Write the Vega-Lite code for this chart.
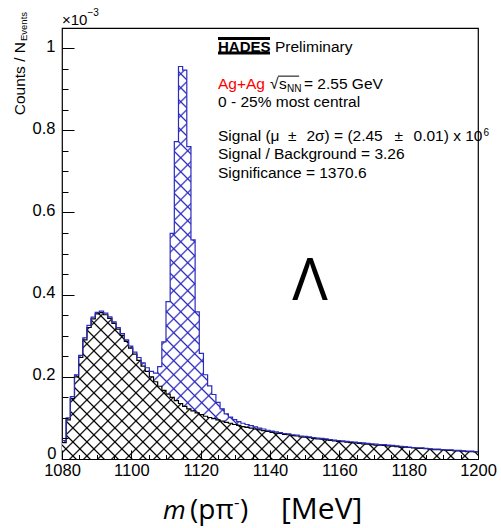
{
"$schema": "https://vega.github.io/schema/vega-lite/v6.json",
"width": 416, "height": 431,
"autosize": "none",
"padding": {"left": 62, "top": 28, "right": 23, "bottom": 69},
"background": "white",
"config": {"view": {"stroke": "black", "strokeWidth": 1.2}},
"resolve": {"axis": {"x": "independent", "y": "independent"}},
"datasets": {"hist": [
{"m":1080,"sig":0.045,"bkg":0.04},{"m":1081.2,"sig":0.1,"bkg":0.095},{"m":1082.4,"sig":0.152,"bkg":0.147},{"m":1083.6,"sig":0.205,"bkg":0.2},{"m":1084.8,"sig":0.252,"bkg":0.247},
{"m":1086,"sig":0.295,"bkg":0.29},{"m":1087.2,"sig":0.325,"bkg":0.32},{"m":1088.4,"sig":0.345,"bkg":0.341},{"m":1089.6,"sig":0.357,"bkg":0.353},{"m":1090.8,"sig":0.36,"bkg":0.356},
{"m":1092,"sig":0.355,"bkg":0.351},{"m":1093.2,"sig":0.346,"bkg":0.342},{"m":1094.4,"sig":0.334,"bkg":0.33},{"m":1095.6,"sig":0.32,"bkg":0.316},{"m":1096.8,"sig":0.305,"bkg":0.301},
{"m":1098,"sig":0.29,"bkg":0.286},{"m":1099.2,"sig":0.275,"bkg":0.27},{"m":1100.4,"sig":0.26,"bkg":0.255},{"m":1101.6,"sig":0.247,"bkg":0.24},{"m":1102.8,"sig":0.234,"bkg":0.226},
{"m":1104,"sig":0.222,"bkg":0.213},{"m":1105.2,"sig":0.213,"bkg":0.2},{"m":1106.4,"sig":0.209,"bkg":0.188},{"m":1107.6,"sig":0.225,"bkg":0.177},{"m":1108.8,"sig":0.285,"bkg":0.167},
{"m":1110,"sig":0.383,"bkg":0.158},{"m":1111.2,"sig":0.549,"bkg":0.15},{"m":1112.4,"sig":0.772,"bkg":0.142},{"m":1113.6,"sig":0.955,"bkg":0.135},{"m":1114.8,"sig":0.946,"bkg":0.128},
{"m":1116,"sig":0.76,"bkg":0.122},{"m":1117.2,"sig":0.533,"bkg":0.117},{"m":1118.4,"sig":0.358,"bkg":0.112},{"m":1119.6,"sig":0.257,"bkg":0.108},{"m":1120.8,"sig":0.205,"bkg":0.104},
{"m":1122,"sig":0.178,"bkg":0.101},{"m":1123.2,"sig":0.157,"bkg":0.098},{"m":1124.4,"sig":0.138,"bkg":0.095},{"m":1125.6,"sig":0.122,"bkg":0.092},{"m":1126.8,"sig":0.11,"bkg":0.089},
{"m":1128,"sig":0.102,"bkg":0.087},{"m":1129.2,"sig":0.096,"bkg":0.084},{"m":1130.4,"sig":0.091,"bkg":0.082},{"m":1131.6,"sig":0.087,"bkg":0.079},{"m":1132.8,"sig":0.084,"bkg":0.077},
{"m":1134,"sig":0.081,"bkg":0.075},{"m":1135.2,"sig":0.078,"bkg":0.073},{"m":1136.4,"sig":0.075,"bkg":0.071},{"m":1137.6,"sig":0.073,"bkg":0.069},{"m":1138.8,"sig":0.07,"bkg":0.067},
{"m":1140,"sig":0.068,"bkg":0.065},{"m":1141.2,"sig":0.066,"bkg":0.063},{"m":1142.4,"sig":0.064,"bkg":0.062},{"m":1143.6,"sig":0.062,"bkg":0.06},{"m":1144.8,"sig":0.061,"bkg":0.059},
{"m":1146,"sig":0.059,"bkg":0.057},{"m":1147.2,"sig":0.058,"bkg":0.056},{"m":1148.4,"sig":0.056,"bkg":0.054},{"m":1149.6,"sig":0.055,"bkg":0.053},{"m":1150.8,"sig":0.054,"bkg":0.052},
{"m":1152,"sig":0.052,"bkg":0.05},{"m":1153.2,"sig":0.051,"bkg":0.049},{"m":1154.4,"sig":0.05,"bkg":0.048},{"m":1155.6,"sig":0.049,"bkg":0.047},{"m":1156.8,"sig":0.047,"bkg":0.045},
{"m":1158,"sig":0.046,"bkg":0.044},{"m":1159.2,"sig":0.045,"bkg":0.043},{"m":1160.4,"sig":0.044,"bkg":0.042},{"m":1161.6,"sig":0.043,"bkg":0.041},{"m":1162.8,"sig":0.042,"bkg":0.04},
{"m":1164,"sig":0.041,"bkg":0.039},{"m":1165.2,"sig":0.04,"bkg":0.038},{"m":1166.4,"sig":0.039,"bkg":0.037},{"m":1167.6,"sig":0.038,"bkg":0.036},{"m":1168.8,"sig":0.037,"bkg":0.035},
{"m":1170,"sig":0.036,"bkg":0.034},{"m":1171.2,"sig":0.035,"bkg":0.034},{"m":1172.4,"sig":0.035,"bkg":0.033},{"m":1173.6,"sig":0.034,"bkg":0.032},{"m":1174.8,"sig":0.033,"bkg":0.031},
{"m":1176,"sig":0.032,"bkg":0.03},{"m":1177.2,"sig":0.031,"bkg":0.029},{"m":1178.4,"sig":0.03,"bkg":0.029},{"m":1179.6,"sig":0.029,"bkg":0.028},{"m":1180.8,"sig":0.028,"bkg":0.027},
{"m":1182,"sig":0.027,"bkg":0.026},{"m":1183.2,"sig":0.027,"bkg":0.026},{"m":1184.4,"sig":0.026,"bkg":0.025},{"m":1185.6,"sig":0.025,"bkg":0.024},{"m":1186.8,"sig":0.024,"bkg":0.023},
{"m":1188,"sig":0.024,"bkg":0.023},{"m":1189.2,"sig":0.023,"bkg":0.022},{"m":1190.4,"sig":0.022,"bkg":0.021},{"m":1191.6,"sig":0.022,"bkg":0.021},{"m":1192.8,"sig":0.021,"bkg":0.02},
{"m":1194,"sig":0.021,"bkg":0.02},{"m":1195.2,"sig":0.02,"bkg":0.019},{"m":1196.4,"sig":0.019,"bkg":0.018},{"m":1197.6,"sig":0.019,"bkg":0.018},{"m":1198.8,"sig":0.018,"bkg":0.017},
{"m":1200,"sig":0.018,"bkg":0.017}
]},
"layer": [
{"data": {"name": "hist"}, "layer": [
{"mark": {"type": "area", "interpolate": "step-after", "strokeWidth": 0, "fill": {"gradient": "linear", "x1": 0, "y1": 0, "x2": 0.89, "y2": 0.84, "stops": [
{"offset":0.0175,"color":"#2b2bbf00"},{"offset":0.02,"color":"#2b2bbf"},{"offset":0.0225,"color":"#2b2bbf00"},
{"offset":0.0375,"color":"#2b2bbf00"},{"offset":0.04,"color":"#2b2bbf"},{"offset":0.0425,"color":"#2b2bbf00"},
{"offset":0.0575,"color":"#2b2bbf00"},{"offset":0.06,"color":"#2b2bbf"},{"offset":0.0625,"color":"#2b2bbf00"},
{"offset":0.0775,"color":"#2b2bbf00"},{"offset":0.08,"color":"#2b2bbf"},{"offset":0.0825,"color":"#2b2bbf00"},
{"offset":0.0975,"color":"#2b2bbf00"},{"offset":0.1,"color":"#2b2bbf"},{"offset":0.1025,"color":"#2b2bbf00"},
{"offset":0.1175,"color":"#2b2bbf00"},{"offset":0.12,"color":"#2b2bbf"},{"offset":0.1225,"color":"#2b2bbf00"},
{"offset":0.1375,"color":"#2b2bbf00"},{"offset":0.14,"color":"#2b2bbf"},{"offset":0.1425,"color":"#2b2bbf00"},
{"offset":0.1575,"color":"#2b2bbf00"},{"offset":0.16,"color":"#2b2bbf"},{"offset":0.1625,"color":"#2b2bbf00"},
{"offset":0.1775,"color":"#2b2bbf00"},{"offset":0.18,"color":"#2b2bbf"},{"offset":0.1825,"color":"#2b2bbf00"},
{"offset":0.1975,"color":"#2b2bbf00"},{"offset":0.2,"color":"#2b2bbf"},{"offset":0.2025,"color":"#2b2bbf00"},
{"offset":0.2175,"color":"#2b2bbf00"},{"offset":0.22,"color":"#2b2bbf"},{"offset":0.2225,"color":"#2b2bbf00"},
{"offset":0.2375,"color":"#2b2bbf00"},{"offset":0.24,"color":"#2b2bbf"},{"offset":0.2425,"color":"#2b2bbf00"},
{"offset":0.2575,"color":"#2b2bbf00"},{"offset":0.26,"color":"#2b2bbf"},{"offset":0.2625,"color":"#2b2bbf00"},
{"offset":0.2775,"color":"#2b2bbf00"},{"offset":0.28,"color":"#2b2bbf"},{"offset":0.2825,"color":"#2b2bbf00"},
{"offset":0.2975,"color":"#2b2bbf00"},{"offset":0.3,"color":"#2b2bbf"},{"offset":0.3025,"color":"#2b2bbf00"},
{"offset":0.3175,"color":"#2b2bbf00"},{"offset":0.32,"color":"#2b2bbf"},{"offset":0.3225,"color":"#2b2bbf00"},
{"offset":0.3375,"color":"#2b2bbf00"},{"offset":0.34,"color":"#2b2bbf"},{"offset":0.3425,"color":"#2b2bbf00"},
{"offset":0.3575,"color":"#2b2bbf00"},{"offset":0.36,"color":"#2b2bbf"},{"offset":0.3625,"color":"#2b2bbf00"},
{"offset":0.3775,"color":"#2b2bbf00"},{"offset":0.38,"color":"#2b2bbf"},{"offset":0.3825,"color":"#2b2bbf00"},
{"offset":0.3975,"color":"#2b2bbf00"},{"offset":0.4,"color":"#2b2bbf"},{"offset":0.4025,"color":"#2b2bbf00"},
{"offset":0.4175,"color":"#2b2bbf00"},{"offset":0.42,"color":"#2b2bbf"},{"offset":0.4225,"color":"#2b2bbf00"},
{"offset":0.4375,"color":"#2b2bbf00"},{"offset":0.44,"color":"#2b2bbf"},{"offset":0.4425,"color":"#2b2bbf00"},
{"offset":0.4575,"color":"#2b2bbf00"},{"offset":0.46,"color":"#2b2bbf"},{"offset":0.4625,"color":"#2b2bbf00"},
{"offset":0.4775,"color":"#2b2bbf00"},{"offset":0.48,"color":"#2b2bbf"},{"offset":0.4825,"color":"#2b2bbf00"},
{"offset":0.4975,"color":"#2b2bbf00"},{"offset":0.5,"color":"#2b2bbf"},{"offset":0.5025,"color":"#2b2bbf00"},
{"offset":0.5175,"color":"#2b2bbf00"},{"offset":0.52,"color":"#2b2bbf"},{"offset":0.5225,"color":"#2b2bbf00"},
{"offset":0.5375,"color":"#2b2bbf00"},{"offset":0.54,"color":"#2b2bbf"},{"offset":0.5425,"color":"#2b2bbf00"},
{"offset":0.5575,"color":"#2b2bbf00"},{"offset":0.56,"color":"#2b2bbf"},{"offset":0.5625,"color":"#2b2bbf00"},
{"offset":0.5775,"color":"#2b2bbf00"},{"offset":0.58,"color":"#2b2bbf"},{"offset":0.5825,"color":"#2b2bbf00"},
{"offset":0.5975,"color":"#2b2bbf00"},{"offset":0.6,"color":"#2b2bbf"},{"offset":0.6025,"color":"#2b2bbf00"},
{"offset":0.6175,"color":"#2b2bbf00"},{"offset":0.62,"color":"#2b2bbf"},{"offset":0.6225,"color":"#2b2bbf00"},
{"offset":0.6375,"color":"#2b2bbf00"},{"offset":0.64,"color":"#2b2bbf"},{"offset":0.6425,"color":"#2b2bbf00"},
{"offset":0.6575,"color":"#2b2bbf00"},{"offset":0.66,"color":"#2b2bbf"},{"offset":0.6625,"color":"#2b2bbf00"},
{"offset":0.6775,"color":"#2b2bbf00"},{"offset":0.68,"color":"#2b2bbf"},{"offset":0.6825,"color":"#2b2bbf00"},
{"offset":0.6975,"color":"#2b2bbf00"},{"offset":0.7,"color":"#2b2bbf"},{"offset":0.7025,"color":"#2b2bbf00"},
{"offset":0.7175,"color":"#2b2bbf00"},{"offset":0.72,"color":"#2b2bbf"},{"offset":0.7225,"color":"#2b2bbf00"},
{"offset":0.7375,"color":"#2b2bbf00"},{"offset":0.74,"color":"#2b2bbf"},{"offset":0.7425,"color":"#2b2bbf00"},
{"offset":0.7575,"color":"#2b2bbf00"},{"offset":0.76,"color":"#2b2bbf"},{"offset":0.7625,"color":"#2b2bbf00"},
{"offset":0.7775,"color":"#2b2bbf00"},{"offset":0.78,"color":"#2b2bbf"},{"offset":0.7825,"color":"#2b2bbf00"},
{"offset":0.7975,"color":"#2b2bbf00"},{"offset":0.8,"color":"#2b2bbf"},{"offset":0.8025,"color":"#2b2bbf00"},
{"offset":0.8175,"color":"#2b2bbf00"},{"offset":0.82,"color":"#2b2bbf"},{"offset":0.8225,"color":"#2b2bbf00"},
{"offset":0.8375,"color":"#2b2bbf00"},{"offset":0.84,"color":"#2b2bbf"},{"offset":0.8425,"color":"#2b2bbf00"},
{"offset":0.8575,"color":"#2b2bbf00"},{"offset":0.86,"color":"#2b2bbf"},{"offset":0.8625,"color":"#2b2bbf00"},
{"offset":0.8775,"color":"#2b2bbf00"},{"offset":0.88,"color":"#2b2bbf"},{"offset":0.8825,"color":"#2b2bbf00"},
{"offset":0.8975,"color":"#2b2bbf00"},{"offset":0.9,"color":"#2b2bbf"},{"offset":0.9025,"color":"#2b2bbf00"},
{"offset":0.9175,"color":"#2b2bbf00"},{"offset":0.92,"color":"#2b2bbf"},{"offset":0.9225,"color":"#2b2bbf00"},
{"offset":0.9375,"color":"#2b2bbf00"},{"offset":0.94,"color":"#2b2bbf"},{"offset":0.9425,"color":"#2b2bbf00"},
{"offset":0.9575,"color":"#2b2bbf00"},{"offset":0.96,"color":"#2b2bbf"},{"offset":0.9625,"color":"#2b2bbf00"},
{"offset":0.9775,"color":"#2b2bbf00"},{"offset":0.98,"color":"#2b2bbf"},{"offset":0.9825,"color":"#2b2bbf00"}
]}},
 "encoding": {
  "x": {"field": "m", "type": "quantitative", "scale": {"domain": [1080, 1200], "nice": false, "zero": false}, "axis": null},
  "y": {"field": "sig", "type": "quantitative", "scale": {"domain": [0, 1.0487], "nice": false, "zero": true}, "axis": null}
 }},
{"mark": {"type": "area", "interpolate": "step-after", "strokeWidth": 0, "fill": {"gradient": "linear", "x1": 0, "y1": 1, "x2": 0.89, "y2": 0.16, "stops": [
{"offset":0.0175,"color":"#2b2bbf00"},{"offset":0.02,"color":"#2b2bbf"},{"offset":0.0225,"color":"#2b2bbf00"},
{"offset":0.0375,"color":"#2b2bbf00"},{"offset":0.04,"color":"#2b2bbf"},{"offset":0.0425,"color":"#2b2bbf00"},
{"offset":0.0575,"color":"#2b2bbf00"},{"offset":0.06,"color":"#2b2bbf"},{"offset":0.0625,"color":"#2b2bbf00"},
{"offset":0.0775,"color":"#2b2bbf00"},{"offset":0.08,"color":"#2b2bbf"},{"offset":0.0825,"color":"#2b2bbf00"},
{"offset":0.0975,"color":"#2b2bbf00"},{"offset":0.1,"color":"#2b2bbf"},{"offset":0.1025,"color":"#2b2bbf00"},
{"offset":0.1175,"color":"#2b2bbf00"},{"offset":0.12,"color":"#2b2bbf"},{"offset":0.1225,"color":"#2b2bbf00"},
{"offset":0.1375,"color":"#2b2bbf00"},{"offset":0.14,"color":"#2b2bbf"},{"offset":0.1425,"color":"#2b2bbf00"},
{"offset":0.1575,"color":"#2b2bbf00"},{"offset":0.16,"color":"#2b2bbf"},{"offset":0.1625,"color":"#2b2bbf00"},
{"offset":0.1775,"color":"#2b2bbf00"},{"offset":0.18,"color":"#2b2bbf"},{"offset":0.1825,"color":"#2b2bbf00"},
{"offset":0.1975,"color":"#2b2bbf00"},{"offset":0.2,"color":"#2b2bbf"},{"offset":0.2025,"color":"#2b2bbf00"},
{"offset":0.2175,"color":"#2b2bbf00"},{"offset":0.22,"color":"#2b2bbf"},{"offset":0.2225,"color":"#2b2bbf00"},
{"offset":0.2375,"color":"#2b2bbf00"},{"offset":0.24,"color":"#2b2bbf"},{"offset":0.2425,"color":"#2b2bbf00"},
{"offset":0.2575,"color":"#2b2bbf00"},{"offset":0.26,"color":"#2b2bbf"},{"offset":0.2625,"color":"#2b2bbf00"},
{"offset":0.2775,"color":"#2b2bbf00"},{"offset":0.28,"color":"#2b2bbf"},{"offset":0.2825,"color":"#2b2bbf00"},
{"offset":0.2975,"color":"#2b2bbf00"},{"offset":0.3,"color":"#2b2bbf"},{"offset":0.3025,"color":"#2b2bbf00"},
{"offset":0.3175,"color":"#2b2bbf00"},{"offset":0.32,"color":"#2b2bbf"},{"offset":0.3225,"color":"#2b2bbf00"},
{"offset":0.3375,"color":"#2b2bbf00"},{"offset":0.34,"color":"#2b2bbf"},{"offset":0.3425,"color":"#2b2bbf00"},
{"offset":0.3575,"color":"#2b2bbf00"},{"offset":0.36,"color":"#2b2bbf"},{"offset":0.3625,"color":"#2b2bbf00"},
{"offset":0.3775,"color":"#2b2bbf00"},{"offset":0.38,"color":"#2b2bbf"},{"offset":0.3825,"color":"#2b2bbf00"},
{"offset":0.3975,"color":"#2b2bbf00"},{"offset":0.4,"color":"#2b2bbf"},{"offset":0.4025,"color":"#2b2bbf00"},
{"offset":0.4175,"color":"#2b2bbf00"},{"offset":0.42,"color":"#2b2bbf"},{"offset":0.4225,"color":"#2b2bbf00"},
{"offset":0.4375,"color":"#2b2bbf00"},{"offset":0.44,"color":"#2b2bbf"},{"offset":0.4425,"color":"#2b2bbf00"},
{"offset":0.4575,"color":"#2b2bbf00"},{"offset":0.46,"color":"#2b2bbf"},{"offset":0.4625,"color":"#2b2bbf00"},
{"offset":0.4775,"color":"#2b2bbf00"},{"offset":0.48,"color":"#2b2bbf"},{"offset":0.4825,"color":"#2b2bbf00"},
{"offset":0.4975,"color":"#2b2bbf00"},{"offset":0.5,"color":"#2b2bbf"},{"offset":0.5025,"color":"#2b2bbf00"},
{"offset":0.5175,"color":"#2b2bbf00"},{"offset":0.52,"color":"#2b2bbf"},{"offset":0.5225,"color":"#2b2bbf00"},
{"offset":0.5375,"color":"#2b2bbf00"},{"offset":0.54,"color":"#2b2bbf"},{"offset":0.5425,"color":"#2b2bbf00"},
{"offset":0.5575,"color":"#2b2bbf00"},{"offset":0.56,"color":"#2b2bbf"},{"offset":0.5625,"color":"#2b2bbf00"},
{"offset":0.5775,"color":"#2b2bbf00"},{"offset":0.58,"color":"#2b2bbf"},{"offset":0.5825,"color":"#2b2bbf00"},
{"offset":0.5975,"color":"#2b2bbf00"},{"offset":0.6,"color":"#2b2bbf"},{"offset":0.6025,"color":"#2b2bbf00"},
{"offset":0.6175,"color":"#2b2bbf00"},{"offset":0.62,"color":"#2b2bbf"},{"offset":0.6225,"color":"#2b2bbf00"},
{"offset":0.6375,"color":"#2b2bbf00"},{"offset":0.64,"color":"#2b2bbf"},{"offset":0.6425,"color":"#2b2bbf00"},
{"offset":0.6575,"color":"#2b2bbf00"},{"offset":0.66,"color":"#2b2bbf"},{"offset":0.6625,"color":"#2b2bbf00"},
{"offset":0.6775,"color":"#2b2bbf00"},{"offset":0.68,"color":"#2b2bbf"},{"offset":0.6825,"color":"#2b2bbf00"},
{"offset":0.6975,"color":"#2b2bbf00"},{"offset":0.7,"color":"#2b2bbf"},{"offset":0.7025,"color":"#2b2bbf00"},
{"offset":0.7175,"color":"#2b2bbf00"},{"offset":0.72,"color":"#2b2bbf"},{"offset":0.7225,"color":"#2b2bbf00"},
{"offset":0.7375,"color":"#2b2bbf00"},{"offset":0.74,"color":"#2b2bbf"},{"offset":0.7425,"color":"#2b2bbf00"},
{"offset":0.7575,"color":"#2b2bbf00"},{"offset":0.76,"color":"#2b2bbf"},{"offset":0.7625,"color":"#2b2bbf00"},
{"offset":0.7775,"color":"#2b2bbf00"},{"offset":0.78,"color":"#2b2bbf"},{"offset":0.7825,"color":"#2b2bbf00"},
{"offset":0.7975,"color":"#2b2bbf00"},{"offset":0.8,"color":"#2b2bbf"},{"offset":0.8025,"color":"#2b2bbf00"},
{"offset":0.8175,"color":"#2b2bbf00"},{"offset":0.82,"color":"#2b2bbf"},{"offset":0.8225,"color":"#2b2bbf00"},
{"offset":0.8375,"color":"#2b2bbf00"},{"offset":0.84,"color":"#2b2bbf"},{"offset":0.8425,"color":"#2b2bbf00"},
{"offset":0.8575,"color":"#2b2bbf00"},{"offset":0.86,"color":"#2b2bbf"},{"offset":0.8625,"color":"#2b2bbf00"},
{"offset":0.8775,"color":"#2b2bbf00"},{"offset":0.88,"color":"#2b2bbf"},{"offset":0.8825,"color":"#2b2bbf00"},
{"offset":0.8975,"color":"#2b2bbf00"},{"offset":0.9,"color":"#2b2bbf"},{"offset":0.9025,"color":"#2b2bbf00"},
{"offset":0.9175,"color":"#2b2bbf00"},{"offset":0.92,"color":"#2b2bbf"},{"offset":0.9225,"color":"#2b2bbf00"},
{"offset":0.9375,"color":"#2b2bbf00"},{"offset":0.94,"color":"#2b2bbf"},{"offset":0.9425,"color":"#2b2bbf00"},
{"offset":0.9575,"color":"#2b2bbf00"},{"offset":0.96,"color":"#2b2bbf"},{"offset":0.9625,"color":"#2b2bbf00"},
{"offset":0.9775,"color":"#2b2bbf00"},{"offset":0.98,"color":"#2b2bbf"},{"offset":0.9825,"color":"#2b2bbf00"}
]}},
 "encoding": {"x": {"field": "m", "type": "quantitative", "axis": null}, "y": {"field": "sig", "type": "quantitative", "axis": null}}},
{"mark": {"type": "area", "interpolate": "step-after", "strokeWidth": 0, "fill": "white"},
 "encoding": {"x": {"field": "m", "type": "quantitative", "axis": null}, "y": {"field": "bkg", "type": "quantitative", "axis": null}}},
{"mark": {"type": "area", "interpolate": "step-after", "strokeWidth": 0, "fill": {"gradient": "linear", "x1": 0, "y1": 0, "x2": 1.198, "y2": 0.421, "stops": [
{"offset":0.022,"color":"#0000"},{"offset":0.025,"color":"#000"},{"offset":0.028,"color":"#0000"},
{"offset":0.047,"color":"#0000"},{"offset":0.05,"color":"#000"},{"offset":0.053,"color":"#0000"},
{"offset":0.072,"color":"#0000"},{"offset":0.075,"color":"#000"},{"offset":0.078,"color":"#0000"},
{"offset":0.097,"color":"#0000"},{"offset":0.1,"color":"#000"},{"offset":0.103,"color":"#0000"},
{"offset":0.122,"color":"#0000"},{"offset":0.125,"color":"#000"},{"offset":0.128,"color":"#0000"},
{"offset":0.147,"color":"#0000"},{"offset":0.15,"color":"#000"},{"offset":0.153,"color":"#0000"},
{"offset":0.172,"color":"#0000"},{"offset":0.175,"color":"#000"},{"offset":0.178,"color":"#0000"},
{"offset":0.197,"color":"#0000"},{"offset":0.2,"color":"#000"},{"offset":0.203,"color":"#0000"},
{"offset":0.222,"color":"#0000"},{"offset":0.225,"color":"#000"},{"offset":0.228,"color":"#0000"},
{"offset":0.247,"color":"#0000"},{"offset":0.25,"color":"#000"},{"offset":0.253,"color":"#0000"},
{"offset":0.272,"color":"#0000"},{"offset":0.275,"color":"#000"},{"offset":0.278,"color":"#0000"},
{"offset":0.297,"color":"#0000"},{"offset":0.3,"color":"#000"},{"offset":0.303,"color":"#0000"},
{"offset":0.322,"color":"#0000"},{"offset":0.325,"color":"#000"},{"offset":0.328,"color":"#0000"},
{"offset":0.347,"color":"#0000"},{"offset":0.35,"color":"#000"},{"offset":0.353,"color":"#0000"},
{"offset":0.372,"color":"#0000"},{"offset":0.375,"color":"#000"},{"offset":0.378,"color":"#0000"},
{"offset":0.397,"color":"#0000"},{"offset":0.4,"color":"#000"},{"offset":0.403,"color":"#0000"},
{"offset":0.422,"color":"#0000"},{"offset":0.425,"color":"#000"},{"offset":0.428,"color":"#0000"},
{"offset":0.447,"color":"#0000"},{"offset":0.45,"color":"#000"},{"offset":0.453,"color":"#0000"},
{"offset":0.472,"color":"#0000"},{"offset":0.475,"color":"#000"},{"offset":0.478,"color":"#0000"},
{"offset":0.497,"color":"#0000"},{"offset":0.5,"color":"#000"},{"offset":0.503,"color":"#0000"},
{"offset":0.522,"color":"#0000"},{"offset":0.525,"color":"#000"},{"offset":0.528,"color":"#0000"},
{"offset":0.547,"color":"#0000"},{"offset":0.55,"color":"#000"},{"offset":0.553,"color":"#0000"},
{"offset":0.572,"color":"#0000"},{"offset":0.575,"color":"#000"},{"offset":0.578,"color":"#0000"},
{"offset":0.597,"color":"#0000"},{"offset":0.6,"color":"#000"},{"offset":0.603,"color":"#0000"},
{"offset":0.622,"color":"#0000"},{"offset":0.625,"color":"#000"},{"offset":0.628,"color":"#0000"},
{"offset":0.647,"color":"#0000"},{"offset":0.65,"color":"#000"},{"offset":0.653,"color":"#0000"},
{"offset":0.672,"color":"#0000"},{"offset":0.675,"color":"#000"},{"offset":0.678,"color":"#0000"},
{"offset":0.697,"color":"#0000"},{"offset":0.7,"color":"#000"},{"offset":0.703,"color":"#0000"},
{"offset":0.722,"color":"#0000"},{"offset":0.725,"color":"#000"},{"offset":0.728,"color":"#0000"},
{"offset":0.747,"color":"#0000"},{"offset":0.75,"color":"#000"},{"offset":0.753,"color":"#0000"},
{"offset":0.772,"color":"#0000"},{"offset":0.775,"color":"#000"},{"offset":0.778,"color":"#0000"},
{"offset":0.797,"color":"#0000"},{"offset":0.8,"color":"#000"},{"offset":0.803,"color":"#0000"},
{"offset":0.822,"color":"#0000"},{"offset":0.825,"color":"#000"},{"offset":0.828,"color":"#0000"},
{"offset":0.847,"color":"#0000"},{"offset":0.85,"color":"#000"},{"offset":0.853,"color":"#0000"},
{"offset":0.872,"color":"#0000"},{"offset":0.875,"color":"#000"},{"offset":0.878,"color":"#0000"},
{"offset":0.897,"color":"#0000"},{"offset":0.9,"color":"#000"},{"offset":0.903,"color":"#0000"},
{"offset":0.922,"color":"#0000"},{"offset":0.925,"color":"#000"},{"offset":0.928,"color":"#0000"},
{"offset":0.947,"color":"#0000"},{"offset":0.95,"color":"#000"},{"offset":0.953,"color":"#0000"},
{"offset":0.972,"color":"#0000"},{"offset":0.975,"color":"#000"},{"offset":0.978,"color":"#0000"}
]}},
 "encoding": {"x": {"field": "m", "type": "quantitative", "axis": null}, "y": {"field": "bkg", "type": "quantitative", "axis": null}}},
{"mark": {"type": "area", "interpolate": "step-after", "strokeWidth": 0, "fill": {"gradient": "linear", "x1": 0, "y1": 1, "x2": 1.198, "y2": 0.579, "stops": [
{"offset":0.022,"color":"#0000"},{"offset":0.025,"color":"#000"},{"offset":0.028,"color":"#0000"},
{"offset":0.047,"color":"#0000"},{"offset":0.05,"color":"#000"},{"offset":0.053,"color":"#0000"},
{"offset":0.072,"color":"#0000"},{"offset":0.075,"color":"#000"},{"offset":0.078,"color":"#0000"},
{"offset":0.097,"color":"#0000"},{"offset":0.1,"color":"#000"},{"offset":0.103,"color":"#0000"},
{"offset":0.122,"color":"#0000"},{"offset":0.125,"color":"#000"},{"offset":0.128,"color":"#0000"},
{"offset":0.147,"color":"#0000"},{"offset":0.15,"color":"#000"},{"offset":0.153,"color":"#0000"},
{"offset":0.172,"color":"#0000"},{"offset":0.175,"color":"#000"},{"offset":0.178,"color":"#0000"},
{"offset":0.197,"color":"#0000"},{"offset":0.2,"color":"#000"},{"offset":0.203,"color":"#0000"},
{"offset":0.222,"color":"#0000"},{"offset":0.225,"color":"#000"},{"offset":0.228,"color":"#0000"},
{"offset":0.247,"color":"#0000"},{"offset":0.25,"color":"#000"},{"offset":0.253,"color":"#0000"},
{"offset":0.272,"color":"#0000"},{"offset":0.275,"color":"#000"},{"offset":0.278,"color":"#0000"},
{"offset":0.297,"color":"#0000"},{"offset":0.3,"color":"#000"},{"offset":0.303,"color":"#0000"},
{"offset":0.322,"color":"#0000"},{"offset":0.325,"color":"#000"},{"offset":0.328,"color":"#0000"},
{"offset":0.347,"color":"#0000"},{"offset":0.35,"color":"#000"},{"offset":0.353,"color":"#0000"},
{"offset":0.372,"color":"#0000"},{"offset":0.375,"color":"#000"},{"offset":0.378,"color":"#0000"},
{"offset":0.397,"color":"#0000"},{"offset":0.4,"color":"#000"},{"offset":0.403,"color":"#0000"},
{"offset":0.422,"color":"#0000"},{"offset":0.425,"color":"#000"},{"offset":0.428,"color":"#0000"},
{"offset":0.447,"color":"#0000"},{"offset":0.45,"color":"#000"},{"offset":0.453,"color":"#0000"},
{"offset":0.472,"color":"#0000"},{"offset":0.475,"color":"#000"},{"offset":0.478,"color":"#0000"},
{"offset":0.497,"color":"#0000"},{"offset":0.5,"color":"#000"},{"offset":0.503,"color":"#0000"},
{"offset":0.522,"color":"#0000"},{"offset":0.525,"color":"#000"},{"offset":0.528,"color":"#0000"},
{"offset":0.547,"color":"#0000"},{"offset":0.55,"color":"#000"},{"offset":0.553,"color":"#0000"},
{"offset":0.572,"color":"#0000"},{"offset":0.575,"color":"#000"},{"offset":0.578,"color":"#0000"},
{"offset":0.597,"color":"#0000"},{"offset":0.6,"color":"#000"},{"offset":0.603,"color":"#0000"},
{"offset":0.622,"color":"#0000"},{"offset":0.625,"color":"#000"},{"offset":0.628,"color":"#0000"},
{"offset":0.647,"color":"#0000"},{"offset":0.65,"color":"#000"},{"offset":0.653,"color":"#0000"},
{"offset":0.672,"color":"#0000"},{"offset":0.675,"color":"#000"},{"offset":0.678,"color":"#0000"},
{"offset":0.697,"color":"#0000"},{"offset":0.7,"color":"#000"},{"offset":0.703,"color":"#0000"},
{"offset":0.722,"color":"#0000"},{"offset":0.725,"color":"#000"},{"offset":0.728,"color":"#0000"},
{"offset":0.747,"color":"#0000"},{"offset":0.75,"color":"#000"},{"offset":0.753,"color":"#0000"},
{"offset":0.772,"color":"#0000"},{"offset":0.775,"color":"#000"},{"offset":0.778,"color":"#0000"},
{"offset":0.797,"color":"#0000"},{"offset":0.8,"color":"#000"},{"offset":0.803,"color":"#0000"},
{"offset":0.822,"color":"#0000"},{"offset":0.825,"color":"#000"},{"offset":0.828,"color":"#0000"},
{"offset":0.847,"color":"#0000"},{"offset":0.85,"color":"#000"},{"offset":0.853,"color":"#0000"},
{"offset":0.872,"color":"#0000"},{"offset":0.875,"color":"#000"},{"offset":0.878,"color":"#0000"},
{"offset":0.897,"color":"#0000"},{"offset":0.9,"color":"#000"},{"offset":0.903,"color":"#0000"},
{"offset":0.922,"color":"#0000"},{"offset":0.925,"color":"#000"},{"offset":0.928,"color":"#0000"},
{"offset":0.947,"color":"#0000"},{"offset":0.95,"color":"#000"},{"offset":0.953,"color":"#0000"},
{"offset":0.972,"color":"#0000"},{"offset":0.975,"color":"#000"},{"offset":0.978,"color":"#0000"}
]}},
 "encoding": {"x": {"field": "m", "type": "quantitative", "axis": null}, "y": {"field": "bkg", "type": "quantitative", "axis": null}}},
{"mark": {"type": "line", "interpolate": "step-after", "stroke": "black", "strokeWidth": 1.2},
 "encoding": {"x": {"field": "m", "type": "quantitative", "axis": null}, "y": {"field": "bkg", "type": "quantitative", "axis": null}}},
{"mark": {"type": "line", "interpolate": "step-after", "stroke": "#2b2bbf", "strokeWidth": 1.2},
 "encoding": {"x": {"field": "m", "type": "quantitative", "axis": null}, "y": {"field": "sig", "type": "quantitative", "axis": null}}}
]},
{"data": {"values": [{}]},
 "mark": {"type": "text", "text": " "},
 "encoding": {
  "x": {"datum": 1080, "axis": {"title": null, "orient": "bottom", "values": [1080,1100,1120,1140,1160,1180,1200], "format": "d",
    "domain": false, "grid": false, "ticks": false, "tickSize": 0,
    "labelFont": "Liberation Sans", "labelFontSize": 16.5, "labelColor": "black", "labelPadding": 3.5,
    "labelFlush": false, "labelOverlap": false, "labelBound": false, "zindex": 2}},
  "y": {"datum": 0, "axis": {"title": null, "orient": "left", "values": [0.2,0.4,0.6,0.8,1], "format": "~g",
    "domain": false, "grid": false, "ticks": false, "tickSize": 0,
    "labelFont": "Liberation Sans", "labelFontSize": 16.5, "labelColor": "black", "labelPadding": 7, "labelOffset": -2,
    "labelFlush": false, "labelOverlap": false, "labelBound": false, "zindex": 2}}
 }},
{"data": {"values": [{}]},
 "mark": {"type": "text", "text": " "},
 "encoding": {
  "y": {"datum": 0, "axis": {"title": null, "orient": "left", "values": [0], "format": "~g",
    "domain": false, "grid": false, "ticks": false, "tickSize": 0,
    "labelFont": "Liberation Sans", "labelFontSize": 16.5, "labelColor": "black", "labelPadding": 6, "labelOffset": -5.5,
    "labelFlush": false, "labelOverlap": false, "labelBound": false, "zindex": 2}}
 }},
{"data": {"values": [{}]},
 "mark": {"type": "text", "text": " "},
 "encoding": {
  "x": {"datum": 1080, "axis": {"title": null, "orient": "bottom", "values": [1080,1100,1120,1140,1160,1180,1200], "labels": false, "domain": false, "grid": false, "ticks": true, "tickSize": -9, "tickColor": "black", "tickWidth": 1, "zindex": 2}},
  "y": {"datum": 0, "axis": {"title": null, "orient": "left", "values": [0,0.2,0.4,0.6,0.8,1], "labels": false, "domain": false, "grid": false, "ticks": true, "tickSize": -12, "tickColor": "black", "tickWidth": 1, "zindex": 2}}
 }},
{"data": {"values": [{}]},
 "mark": {"type": "text", "text": " "},
 "encoding": {
  "x": {"datum": 1080, "axis": {"title": null, "orient": "bottom", "values": [1085,1090,1095,1105,1110,1115,1125,1130,1135,1145,1150,1155,1165,1170,1175,1185,1190,1195], "labels": false, "domain": false, "grid": false, "ticks": true, "tickSize": -4.5, "tickColor": "black", "tickWidth": 1, "zindex": 2}},
  "y": {"datum": 0, "axis": {"title": null, "orient": "left", "values": [0.05,0.1,0.15,0.25,0.3,0.35,0.45,0.5,0.55,0.65,0.7,0.75,0.85,0.9,0.95], "labels": false, "domain": false, "grid": false, "ticks": true, "tickSize": -6, "tickColor": "black", "tickWidth": 1, "zindex": 2}}
 }},
{"data": {"values": [{}]}, "layer": [
{"mark": {"type": "text", "text": "×10", "font": "Liberation Sans", "fontSize": 15, "align": "left", "baseline": "alphabetic", "fill": "black"},
 "encoding": {"x": {"datum": 1080, "axis": null}, "y": {"datum": 1.056, "axis": null}}},
{"mark": {"type": "text", "text": "−3", "font": "Liberation Sans", "fontSize": 10, "align": "left", "baseline": "alphabetic", "fill": "black"},
 "encoding": {"x": {"datum": 1087.36, "axis": null}, "y": {"datum": 1.0779, "axis": null}}},
{"mark": {"type": "text", "text": "Counts / N", "font": "Liberation Sans", "fontSize": 15.5, "angle": 270, "align": "right", "baseline": "alphabetic", "fill": "black"},
 "encoding": {"x": {"datum": 1069.33, "axis": null}, "y": {"datum": 1.0146, "axis": null}}},
{"mark": {"type": "text", "text": "Events", "font": "Liberation Sans", "fontSize": 9.5, "angle": 270, "align": "left", "baseline": "alphabetic", "fill": "black"},
 "encoding": {"x": {"datum": 1069.9, "axis": null}, "y": {"datum": 1.017, "axis": null}}},
{"mark": {"type": "rule", "stroke": "black", "strokeWidth": 3},
 "encoding": {"x": {"datum": 1125, "axis": null}, "x2": {"datum": 1140}, "y": {"datum": 1.0231, "axis": null}}},
{"mark": {"type": "rule", "stroke": "black", "strokeWidth": 3},
 "encoding": {"x": {"datum": 1125, "axis": null}, "x2": {"datum": 1140}, "y": {"datum": 0.9878, "axis": null}}},
{"mark": {"type": "text", "text": "HADES", "font": "Liberation Sans", "fontSize": 15, "fontWeight": "bold", "align": "left", "baseline": "alphabetic", "fill": "black"},
 "encoding": {"x": {"datum": 1125, "axis": null}, "y": {"datum": 0.9915, "axis": null}}},
{"mark": {"type": "text", "text": "Preliminary", "font": "Liberation Sans", "fontSize": 15.5, "align": "left", "baseline": "alphabetic", "fill": "black"},
 "encoding": {"x": {"datum": 1141.44, "axis": null}, "y": {"datum": 0.9903, "axis": null}}},
{"mark": {"type": "text", "text": "Ag+Ag", "font": "Liberation Sans", "fontSize": 15.5, "align": "left", "baseline": "alphabetic", "fill": "#ff0000"},
 "encoding": {"x": {"datum": 1125, "axis": null}, "y": {"datum": 0.9002, "axis": null}}},
{"mark": {"type": "text", "text": "√", "font": "Liberation Sans", "fontSize": 15.5, "align": "left", "baseline": "alphabetic", "fill": "black"},
 "encoding": {"x": {"datum": 1140.0, "axis": null}, "y": {"datum": 0.9002, "axis": null}}},
{"mark": {"type": "rule", "stroke": "black", "strokeWidth": 1},
 "encoding": {"x": {"datum": 1142.3, "axis": null}, "x2": {"datum": 1148.4}, "y": {"datum": 0.9316, "axis": null}}},
{"mark": {"type": "text", "text": "s", "font": "Liberation Sans", "fontSize": 15.5, "align": "left", "baseline": "alphabetic", "fill": "black"},
 "encoding": {"x": {"datum": 1142.6, "axis": null}, "y": {"datum": 0.9002, "axis": null}}},
{"mark": {"type": "text", "text": "NN", "font": "Liberation Sans", "fontSize": 10, "align": "left", "baseline": "alphabetic", "fill": "black"},
 "encoding": {"x": {"datum": 1144.9, "axis": null}, "y": {"datum": 0.8929, "axis": null}}},
{"mark": {"type": "text", "text": "= 2.55 GeV", "font": "Liberation Sans", "fontSize": 15.5, "align": "left", "baseline": "alphabetic", "fill": "black"},
 "encoding": {"x": {"datum": 1149.81, "axis": null}, "y": {"datum": 0.9002, "axis": null}}},
{"mark": {"type": "text", "text": "0 - 25% most central", "font": "Liberation Sans", "fontSize": 15.5, "align": "left", "baseline": "alphabetic", "fill": "black"},
 "encoding": {"x": {"datum": 1125, "axis": null}, "y": {"datum": 0.8565, "axis": null}}},
{"mark": {"type": "text", "text": "Signal (μ", "font": "Liberation Sans", "fontSize": 15.5, "align": "left", "baseline": "alphabetic", "fill": "black"},
 "encoding": {"x": {"datum": 1125, "axis": null}, "y": {"datum": 0.7737, "axis": null}}},
{"mark": {"type": "text", "text": "±", "font": "Liberation Sans", "fontSize": 15.5, "align": "left", "baseline": "alphabetic", "fill": "black"},
 "encoding": {"x": {"datum": 1145.2, "axis": null}, "y": {"datum": 0.7737, "axis": null}}},
{"mark": {"type": "text", "text": "2σ) = (2.45", "font": "Liberation Sans", "fontSize": 15.5, "align": "left", "baseline": "alphabetic", "fill": "black"},
 "encoding": {"x": {"datum": 1150.5, "axis": null}, "y": {"datum": 0.7737, "axis": null}}},
{"mark": {"type": "text", "text": "±", "font": "Liberation Sans", "fontSize": 15.5, "align": "left", "baseline": "alphabetic", "fill": "black"},
 "encoding": {"x": {"datum": 1175.9, "axis": null}, "y": {"datum": 0.7737, "axis": null}}},
{"mark": {"type": "text", "text": "0.01) x 10", "font": "Liberation Sans", "fontSize": 15.5, "align": "left", "baseline": "alphabetic", "fill": "black"},
 "encoding": {"x": {"datum": 1181.4, "axis": null}, "y": {"datum": 0.7737, "axis": null}}},
{"mark": {"type": "text", "text": "6", "font": "Liberation Sans", "fontSize": 10, "align": "left", "baseline": "alphabetic", "fill": "black"},
 "encoding": {"x": {"datum": 1201.6, "axis": null}, "y": {"datum": 0.7859, "axis": null}}},
{"mark": {"type": "text", "text": "Signal / Background = 3.26", "font": "Liberation Sans", "fontSize": 15.5, "align": "left", "baseline": "alphabetic", "fill": "black"},
 "encoding": {"x": {"datum": 1125, "axis": null}, "y": {"datum": 0.7299, "axis": null}}},
{"mark": {"type": "text", "text": "Significance = 1370.6", "font": "Liberation Sans", "fontSize": 15.5, "align": "left", "baseline": "alphabetic", "fill": "black"},
 "encoding": {"x": {"datum": 1125, "axis": null}, "y": {"datum": 0.6837, "axis": null}}},
{"mark": {"type": "text", "text": "Λ", "font": "Open Sans", "fontSize": 59, "align": "center", "baseline": "alphabetic", "fill": "black"},
 "encoding": {"x": {"datum": 1151.54, "axis": null}, "y": {"datum": 0.3869, "axis": null}}},
{"mark": {"type": "text", "text": "m", "font": "Open Sans", "fontSize": 26, "fontStyle": "italic", "align": "left", "baseline": "alphabetic", "fill": "black"},
 "encoding": {"x": {"datum": 1109.13, "axis": null}, "y": {"datum": -0.1460, "axis": null}}},
{"mark": {"type": "text", "text": "(pπ", "font": "Open Sans", "fontSize": 28, "align": "left", "baseline": "alphabetic", "fill": "black"},
 "encoding": {"x": {"datum": 1116.92, "axis": null}, "y": {"datum": -0.1460, "axis": null}}},
{"mark": {"type": "text", "text": "-", "font": "Open Sans", "fontSize": 17, "align": "left", "baseline": "alphabetic", "fill": "black"},
 "encoding": {"x": {"datum": 1129.62, "axis": null}, "y": {"datum": -0.1200, "axis": null}}},
{"mark": {"type": "text", "text": ")", "font": "Open Sans", "fontSize": 28, "align": "left", "baseline": "alphabetic", "fill": "black"},
 "encoding": {"x": {"datum": 1131.35, "axis": null}, "y": {"datum": -0.1460, "axis": null}}},
{"mark": {"type": "text", "text": "[MeV]", "font": "Open Sans", "fontSize": 30, "align": "left", "baseline": "alphabetic", "fill": "black"},
 "encoding": {"x": {"datum": 1143.17, "axis": null}, "y": {"datum": -0.1460, "axis": null}}}
]}
]
}
